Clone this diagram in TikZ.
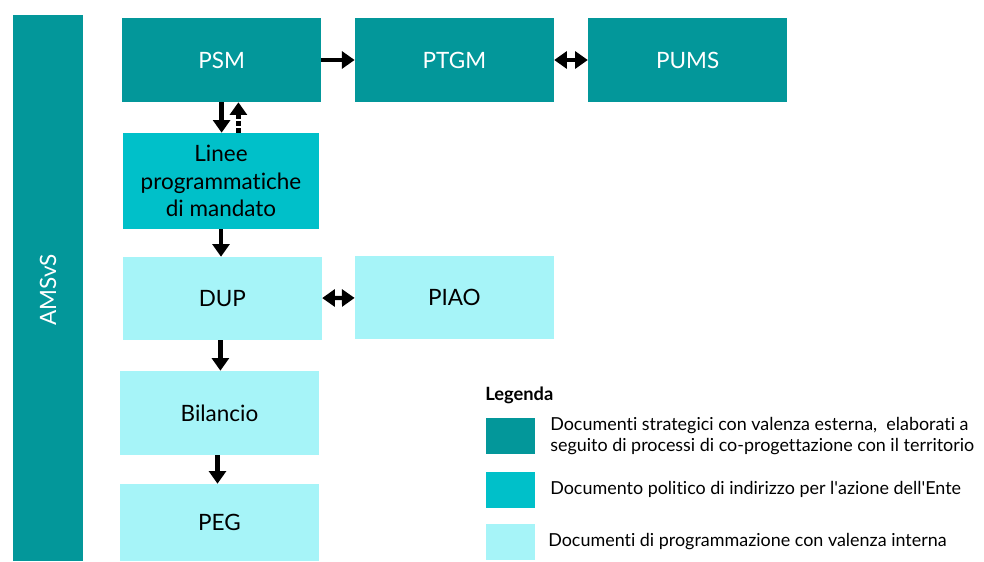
\documentclass[tikz,border=0pt]{standalone}
\usepackage{fontspec}
\setmainfont{Lato}[Ligatures=NoCommon]
\usetikzlibrary{arrows.meta}

\definecolor{tealscuro}{HTML}{03979A}
\definecolor{tealmedio}{HTML}{00C0C9}
\definecolor{tealchiaro}{HTML}{A6F4F8}

\begin{document}
\begin{tikzpicture}[>={Triangle[length=9pt,width=12pt]},
  doc/.style={minimum width=4.975cm, minimum height=2.1cm, inner sep=0pt, align=center, font=\fontsize{16}{19.5}\selectfont},
  strategico/.style={doc, fill=tealscuro, text=white},
  politico/.style={doc, fill=tealmedio},
  interno/.style={doc, fill=tealchiaro},
  freccia/.style={->, line width=3pt},
  legbox/.style={minimum width=1.225cm, minimum height=0.9cm, inner sep=0pt},
  legtxt/.style={anchor=west, align=left, inner sep=0pt, font=\fontsize{12.75}{15.5}\selectfont}]
\useasboundingbox (0,0) rectangle (24.6,14.025);

%barra laterale
\fill [tealscuro] (0.325,0) rectangle (2.075,13.65);
\node [rotate=90, text=white, font=\fontsize{16}{19}\selectfont] (amsvs) at (1.2,6.775) {AMSvS};

%documenti strategici
\node [strategico] (psm) at (5.54,12.525) {PSM};
\node [strategico] (ptgm) at (11.36,12.525) {PTGM};
\node [strategico] (pums) at (17.19,12.525) {PUMS};

%linee di mandato
\node [politico, minimum width=4.9cm, minimum height=2.4cm] (linee) at (5.525,9.5) {Linee\\programmatiche\\di mandato};

%documenti interni
\node [interno, minimum height=2.075cm] (dup) at (5.56,6.5625) {DUP};
\node [interno, minimum height=2.075cm] (piao) at (11.36,6.5875) {PIAO};
\node [interno] (bilancio) at (5.4875,3.7) {Bilancio};
\node [interno, minimum height=1.925cm] (peg) at (5.4875,0.9625) {PEG};

%frecce
\draw [freccia] (psm) -- (ptgm);
\draw [freccia, <->] (ptgm) -- (pums);
\draw [freccia] (psm.south) -- (psm.south |- linee.north);
\draw [freccia, dotted] ([xshift=0.42cm]psm.south |- linee.north) -- ([xshift=0.42cm]psm.south);
\draw [freccia] (linee.south) -- (linee.south |- dup.north);
\draw [freccia, <->] (dup) -- (piao);
\draw [freccia] ([xshift=-0.05cm]dup.south) -- ([xshift=-0.05cm]dup.south |- bilancio.north);
\draw [freccia] ([xshift=-0.05cm]bilancio.south) -- ([xshift=-0.05cm]bilancio.south |- peg.north);

%legenda
\node [anchor=west, inner sep=0pt, font=\bfseries\fontsize{13}{15}\selectfont] (legenda) at (12.125,4.15) {Legenda};
\node [legbox, fill=tealscuro] (leg1) at (12.76,3.125) {};
\node [legbox, fill=tealmedio] (leg2) at (12.76,1.7875) {};
\node [legbox, fill=tealchiaro] (leg3) at (12.76,0.475) {};
\node [legtxt] (txt1) at (13.75,3.125) {Documenti strategici con valenza esterna,\ \ elaborati a\\seguito di processi di co-progettazione con il territorio};
\node [legtxt] (txt2) at (13.75,1.7875) {Documento politico di indirizzo per l\textquotesingle azione dell\textquotesingle Ente};
\node [legtxt] (txt3) at (13.7,0.475) {Documenti di programmazione con valenza interna};

\end{tikzpicture}
\end{document}
